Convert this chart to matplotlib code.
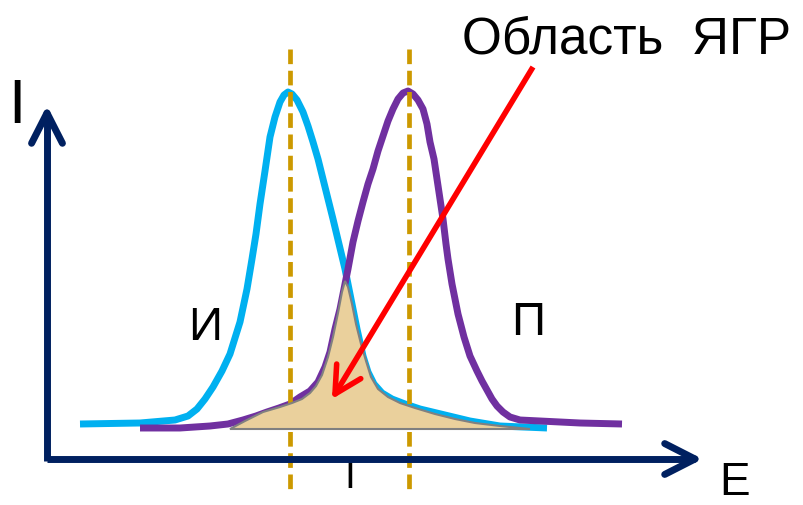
import numpy as np
import matplotlib.pyplot as plt

# Emission (И) and absorption (П) line shapes, in picture units (x right, y down)
emis_x = [80, 140, 175, 188, 197, 205, 213, 222, 230, 240, 247, 252, 256, 260, 265, 270, 275, 280, 284, 288,
          292, 297, 303, 308, 313, 318, 323, 328, 333, 339, 345, 350, 357, 363, 368, 374, 382, 392, 405, 420,
          445, 470, 500, 547]
emis_y = [425, 424, 421, 417, 410, 400, 388, 372, 355, 323, 290, 260, 235, 205, 172, 138, 118, 103, 96, 93,
          95, 101, 113, 127, 143, 160, 180, 200, 220, 245, 270, 295, 330, 357, 373, 385, 394, 400, 405, 410,
          416, 422, 427, 429]

abs_x = [140, 180, 210, 228, 243, 256, 267, 279, 290, 300, 310, 318, 325, 330, 335, 340, 344, 348, 353, 358,
         363, 368, 373, 378, 383, 388, 393, 398, 403, 408, 413, 418, 423, 427, 430, 434, 437, 440, 443, 446,
         448, 452, 458, 464, 470, 477, 482, 487, 492, 497, 503, 510, 520, 540, 580, 622]
abs_y = [429, 429, 427, 425, 421, 417, 413, 409, 405, 398, 392, 383, 368, 353, 330, 310, 290, 270, 243, 222,
         203, 185, 170, 152, 137, 122, 110, 100, 94, 92, 95, 101, 110, 125, 143, 160, 180, 200, 220, 245,
         260, 285, 315, 338, 357, 372, 382, 391, 400, 407, 413, 418, 421, 422, 424, 425]

# overlap (resonance) region under both lines
ovl_x = [230, 245, 263, 280, 292, 302, 310, 316, 322, 328, 333, 338, 342, 345, 348, 352, 356, 361, 366,
         371, 378, 388, 400, 415, 435, 455, 475, 500, 530]
ovl_y = [430, 422, 413, 408, 404, 400, 394, 387, 376, 358, 338, 314, 293, 282, 288, 305, 325, 345, 362,
         378, 390, 398, 404, 409, 415, 420, 424, 427, 430]

peak_lines = [290, 409]

fig = plt.figure(figsize=(8.04, 5.06), dpi=100)
ax = fig.add_axes([0, 0, 1, 1])
ax.set_xlim(0, 804)
ax.set_ylim(506, 0)
ax.axis('off')

navy = '#002060'


def open_arrow(x0, y0, x1, y1, color, lw, head=28, spread=28, z=5):
    ax.plot([x0, x1], [y0, y1], color=color, lw=lw, solid_capstyle='butt', zorder=z)
    ang = np.arctan2(y1 - y0, x1 - x0)
    for s in (-1, 1):
        a = ang + np.pi - s * np.radians(spread)
        ax.plot([x1, x1 + head * np.cos(a)], [y1, y1 + head * np.sin(a)],
                color=color, lw=lw, solid_capstyle='round', zorder=z)


ax.plot(emis_x, emis_y, color='#00B0F0', lw=5, solid_joinstyle='round', solid_capstyle='butt', zorder=2)
ax.plot(abs_x, abs_y, color='#7030A0', lw=5, solid_joinstyle='round', solid_capstyle='butt', zorder=2)

for xv in peak_lines:
    ax.plot([xv, xv], [50, 492], color='#CC9900', lw=3.4, dashes=(3.1, 1.4), zorder=3)

ax.fill(ovl_x, ovl_y, facecolor='#EAD09C', edgecolor='#808080', lw=1.5, zorder=4)

# axes
open_arrow(47, 462, 47, 114, navy, 5, head=34, spread=27)
open_arrow(47, 460, 695, 460, navy, 5, head=34, spread=27)

# pointer to the overlap region
open_arrow(533, 68, 335, 395, '#FF0000', 4, head=30, spread=28, z=6)

txt = dict(family='Liberation Sans', color='black')
ax.text(462, 53, 'Область  ЯГР', fontsize=37, ha='left', va='baseline', **txt)
ax.text(8, 123, 'I', fontsize=45, ha='left', va='baseline', **txt)
ax.text(188, 340, 'И', fontsize=34, ha='left', va='baseline', **txt)
ax.text(511, 335, 'П', fontsize=34, ha='left', va='baseline', **txt)
ax.text(719, 495, 'E', fontsize=33, ha='left', va='baseline', **txt)
ax.text(344, 488, 'I', fontsize=28, ha='left', va='baseline', zorder=1, **txt)

fig.savefig('out.png', dpi=100, facecolor='white')
